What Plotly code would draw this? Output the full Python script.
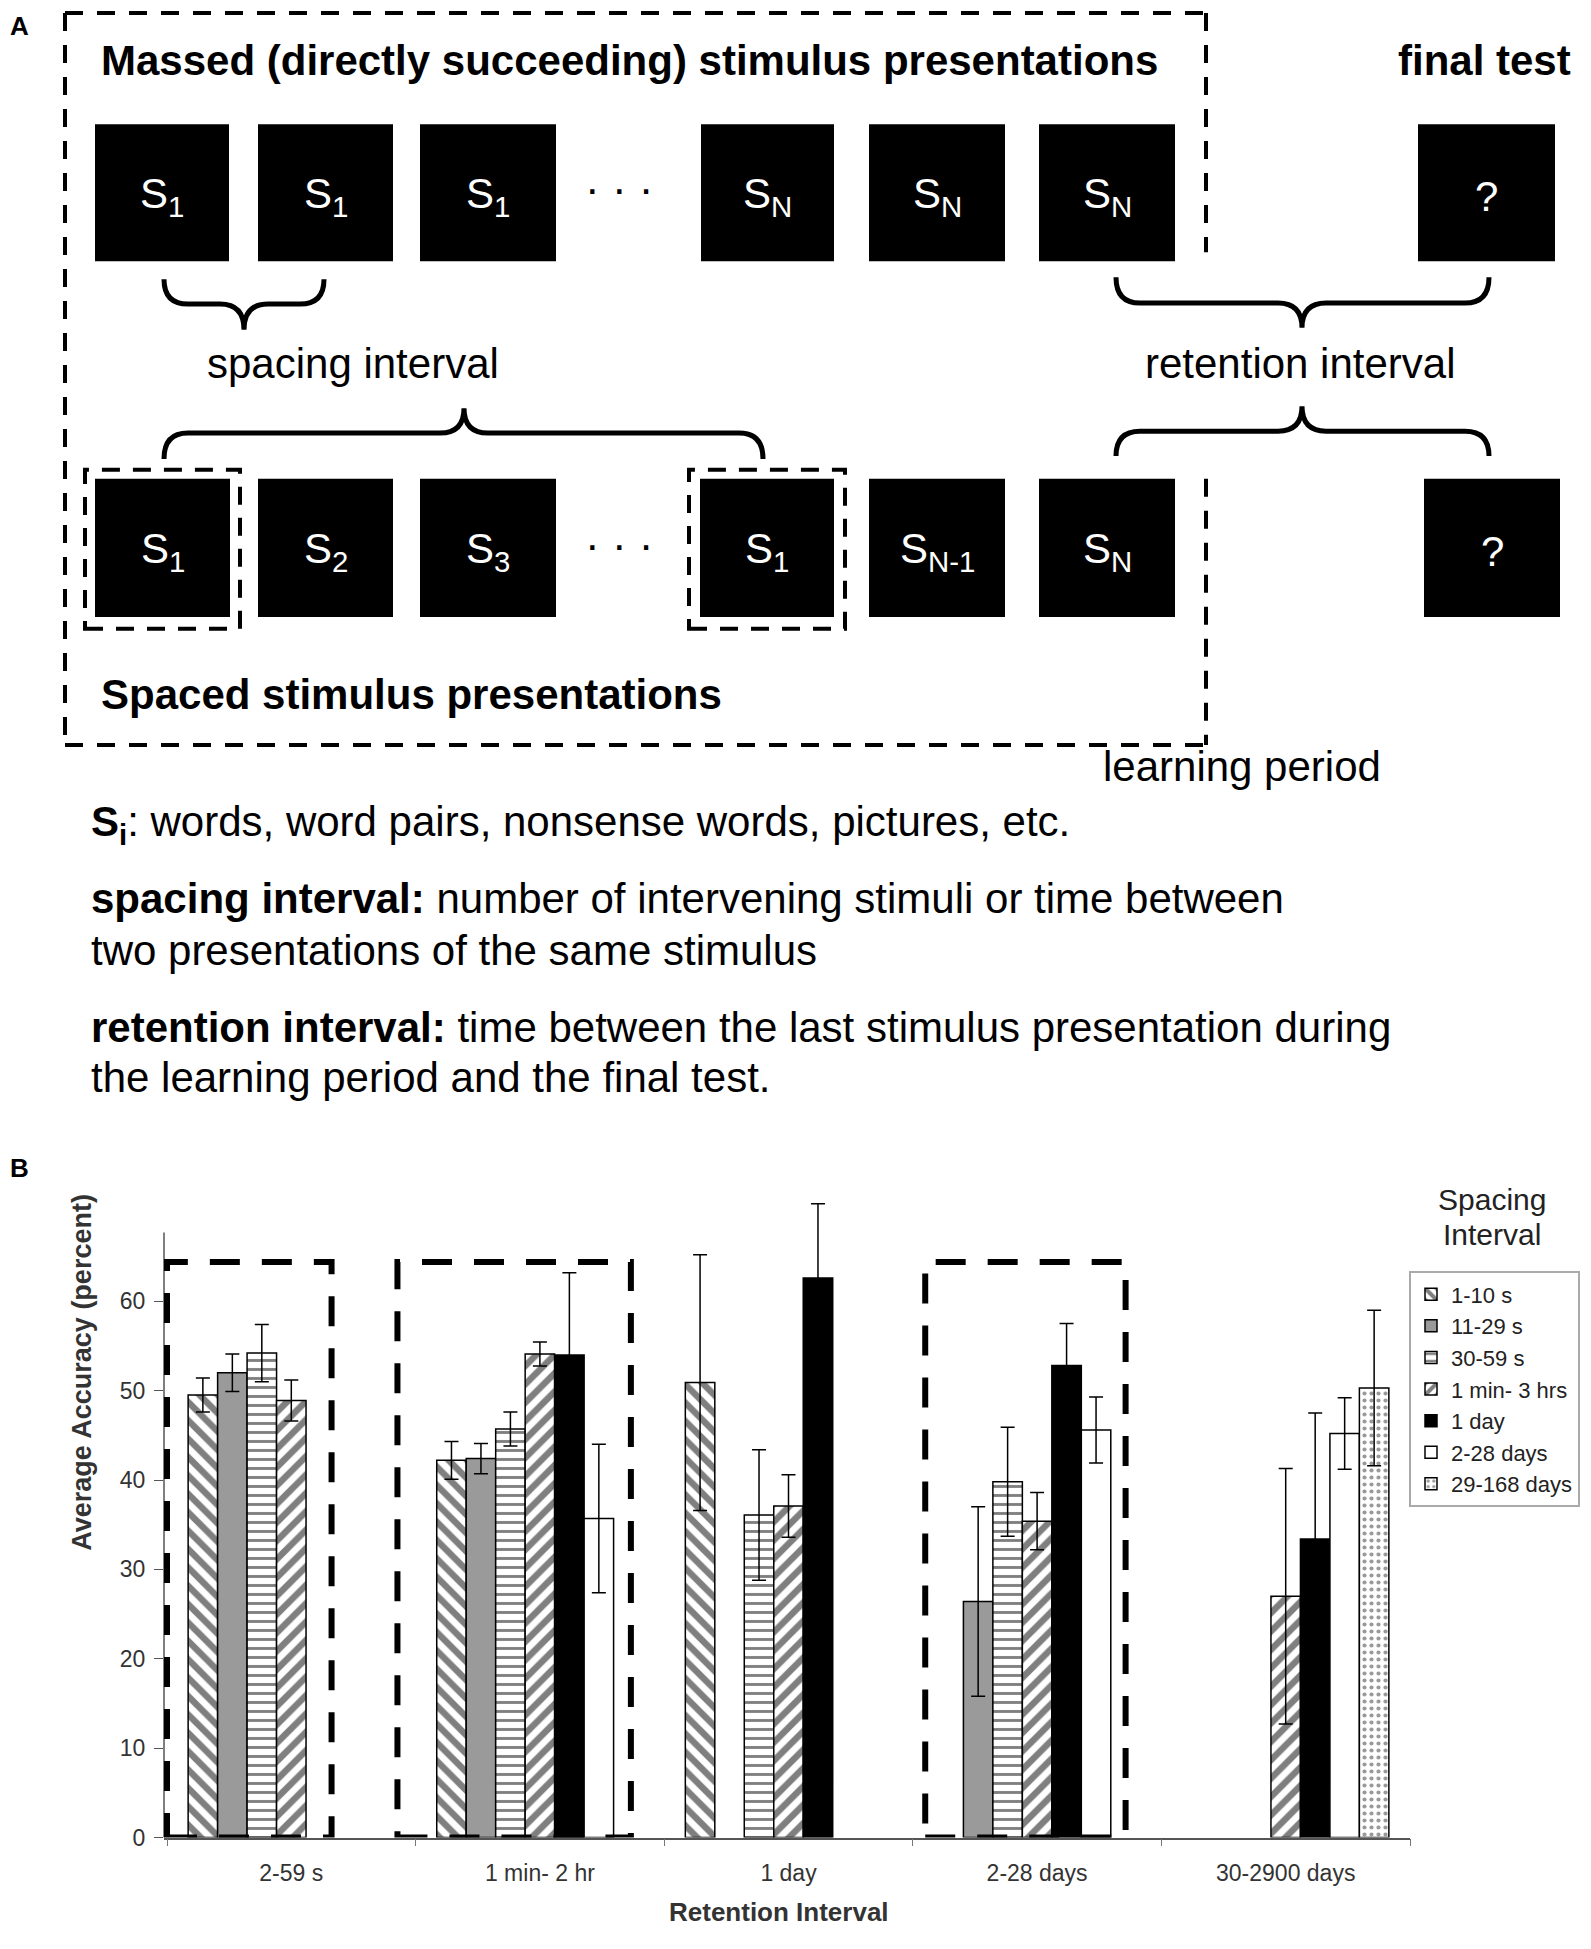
import plotly.graph_objects as go

# ---------------- data (panel B) ----------------
categories = ["2-59 s", "1 min- 2 hr", "1 day", "2-28 days", "30-2900 days"]
series_names = ["1-10 s", "11-29 s", "30-59 s", "1 min- 3 hrs", "1 day", "2-28 days", "29-168 days"]

acc_1_10s = [49.5, 42.2, 50.9, None, None]
err_1_10s = [1.9, 2.1, 14.3, None, None]
acc_11_29s = [52.0, 42.4, None, 26.4, None]
err_11_29s = [2.1, 1.7, None, 10.6, None]
acc_30_59s = [54.2, 45.7, 36.1, 39.8, None]
err_30_59s = [3.2, 1.9, 7.3, 6.1, None]
acc_1min_3hrs = [48.9, 54.1, 37.1, 35.4, 27.0]
err_1min_3hrs = [2.3, 1.35, 3.5, 3.2, 14.3]
acc_1day = [None, 54.0, 62.6, 52.8, 33.4]
err_1day = [None, 9.2, 8.3, 4.7, 14.1]
acc_2_28days = [None, 35.7, None, 45.6, 45.2]
err_2_28days = [None, 8.3, None, 3.7, 4.0]
acc_29_168days = [None, None, None, None, 50.3]
err_29_168days = [None, None, None, None, 8.7]

y_ticks = [0, 10, 20, 30, 40, 50, 60]

FONT = "Liberation Sans, Arial, sans-serif"
W, H = 1591, 1949
M = 8                      # default page margin of the html body
FW, FH = W - 2 * M, H - 2 * M


def px(x):
    return (x - M) / FW


def py(y):
    return 1 - (y - M) / FH


values = [acc_1_10s, acc_11_29s, acc_30_59s, acc_1min_3hrs, acc_1day, acc_2_28days, acc_29_168days]
errors = [err_1_10s, err_11_29s, err_30_59s, err_1min_3hrs, err_1day, err_2_28days, err_29_168days]

styles = [
    dict(color="white", pattern=dict(shape="\\", fgcolor="black", bgcolor="white", size=13, solidity=0.5)),
    dict(color="#9a9a9a", pattern=dict(shape="")),
    dict(color="white", pattern=dict(shape="-", fgcolor="black", bgcolor="white", size=9, solidity=0.32)),
    dict(color="white", pattern=dict(shape="/", fgcolor="black", bgcolor="white", size=13, solidity=0.5)),
    dict(color="black", pattern=dict(shape="")),
    dict(color="white", pattern=dict(shape="")),
    dict(color="white", pattern=dict(shape=".", fgcolor="#333333", bgcolor="white", size=7, solidity=0.28)),
]

fig = go.Figure()
for name, vals, errs, st in zip(series_names, values, errors, styles):
    fig.add_trace(go.Bar(
        x=categories, y=vals, name=name, legendgroup=name,
        marker=dict(color=st["color"], pattern=st["pattern"],
                    line=dict(color="black", width=1.5)),
        error_y=dict(type="data", array=errs, visible=True, color="black",
                     thickness=1.5, width=7),
    ))

fig.update_layout(
    width=FW, height=FH,
    margin=dict(l=0, r=0, t=0, b=0),
    paper_bgcolor="white", plot_bgcolor="white",
    barmode="group", bargap=0.17, bargroupgap=0,
    font=dict(family=FONT, color="#333333"),
    showlegend=True,
    legend=dict(x=px(1409), y=py(1280), xanchor="left", yanchor="top",
                bordercolor="#aaaaaa", borderwidth=2, bgcolor="white",
                font=dict(size=22, color="#222222", family=FONT),
                tracegroupgap=8, traceorder="normal"),
    xaxis=dict(domain=[px(164), px(1410)], showline=True, linecolor="#555555", linewidth=1.5,
               ticks="outside", tickson="boundaries", ticklen=7, tickcolor="#777777",
               tickfont=dict(size=23, color="#333333"), ticklabelstandoff=14,
               showgrid=False, zeroline=False),
    yaxis=dict(domain=[py(1850), py(1202)], range=[0, 72], showline=False,
               tickvals=y_ticks, ticks="outside", ticklen=9, tickcolor="#555555",
               tickfont=dict(size=23, color="#333333"), ticklabelstandoff=4,
               showgrid=False, zeroline=False),
)

shapes = []
annotations = []

# y axis line (drawn up to top of data region)
shapes.append(dict(type="line", xref="x domain", yref="y", x0=0, x1=0, y0=0, y1=67.7,
                   line=dict(color="#555555", width=1.5)))

# thick dashed highlight boxes in panel B
for x0, x1 in [(-0.5, 0.162), (0.427, 1.366), (2.55, 3.356)]:
    shapes.append(dict(type="rect", xref="x", yref="y", x0=x0, x1=x1, y0=0, y1=64.4,
                       line=dict(color="black", width=6, dash="30px,22px"),
                       fillcolor="rgba(0,0,0,0)", layer="above"))


def text(t, x, y, size=42, anchor="center", color="black", angle=0):
    return dict(text=t, x=px(x), y=py(y), xref="paper", yref="paper", xanchor=anchor,
                yanchor="middle", showarrow=False, textangle=angle,
                font=dict(size=size, color=color, family=FONT))


# axis titles and legend title
annotations.append(text("<b>Average Accuracy (percent)</b>", 82, 1382, size=27, color="#333333", angle=-90))
annotations.append(text("<b>Retention Interval</b>", 779, 1925, size=26, color="#333333"))
annotations.append(text("Spacing", 1492, 1208, size=30, color="#222222"))
annotations.append(text("Interval", 1492, 1243, size=30, color="#222222"))

# panel labels
annotations.append(text("<b>A</b>", 8, 26, size=26, anchor="left"))
annotations.append(text("<b>B</b>", 8, 1176, size=26, anchor="left"))

# ---------------- panel A diagram ----------------
def rect(x0, y0, x1, y1, **kw):
    d = dict(type="rect", xref="paper", yref="paper", x0=px(x0), x1=px(x1), y0=py(y1), y1=py(y0))
    d.update(kw)
    return d


def line(x0, y0, x1, y1, **kw):
    d = dict(type="line", xref="paper", yref="paper", x0=px(x0), x1=px(x1), y0=py(y0), y1=py(y1))
    d.update(kw)
    return d


dash_outer = dict(color="black", width=4, dash="18px,14px")

# outer learning-period box
shapes.append(line(65, 13, 1206, 13, line=dash_outer))
shapes.append(line(65, 13, 65, 750, line=dash_outer))
shapes.append(line(65, 750, 1206, 750, line=dash_outer))
shapes.append(line(1206, 13, 1206, 254, line=dash_outer))
shapes.append(line(1206, 482, 1206, 750, line=dash_outer))

top_row = [(95, 229, "S<sub>1</sub>"), (258, 393, "S<sub>1</sub>"), (420, 556, "S<sub>1</sub>"),
           (701, 834, "S<sub>N</sub>"), (869, 1005, "S<sub>N</sub>"), (1039, 1175, "S<sub>N</sub>"),
           (1418, 1555, "?")]
bottom_row = [(95, 230, "S<sub>1</sub>"), (258, 393, "S<sub>2</sub>"), (420, 556, "S<sub>3</sub>"),
              (700, 834, "S<sub>1</sub>"), (869, 1005, "S<sub>N-1</sub>"), (1039, 1175, "S<sub>N</sub>"),
              (1424, 1560, "?")]

for (x0, x1, lab) in top_row:
    shapes.append(rect(x0, 125, x1, 263, fillcolor="black", line=dict(width=0)))
    annotations.append(text(lab, (x0 + x1) / 2, 198, size=42, color="white"))
for (x0, x1, lab) in bottom_row:
    shapes.append(rect(x0, 482, x1, 621, fillcolor="black", line=dict(width=0)))
    annotations.append(text(lab, (x0 + x1) / 2, 555, size=42, color="white"))

annotations.append(text("· · ·", 619, 190, size=44))
annotations.append(text("· · ·", 619, 548, size=44))

# inner dashed boxes around repeated S1
for x0, x1 in [(85, 240), (689, 845)]:
    shapes.append(rect(x0, 473, x1, 633, line=dict(color="black", width=4, dash="18px,13px"),
                       fillcolor="rgba(0,0,0,0)"))


def brace(x0, x1, xc, y_end, y_mid, y_tip, r=24):
    pts = [
        f"M {px(x0)},{py(y_end)}",
        f"Q {px(x0)},{py(y_mid)} {px(x0 + r)},{py(y_mid)}",
        f"L {px(xc - r)},{py(y_mid)}",
        f"Q {px(xc)},{py(y_mid)} {px(xc)},{py(y_tip)}",
        f"Q {px(xc)},{py(y_mid)} {px(xc + r)},{py(y_mid)}",
        f"L {px(x1 - r)},{py(y_mid)}",
        f"Q {px(x1)},{py(y_mid)} {px(x1)},{py(y_end)}",
    ]
    return dict(type="path", xref="paper", yref="paper", path=" ".join(pts),
                line=dict(color="black", width=5))


shapes.append(brace(164, 324, 244, 281, 306, 332))
shapes.append(brace(164, 763, 464, 462, 436, 411))
shapes.append(brace(1116, 1489, 1302, 279, 305, 330))
shapes.append(brace(1116, 1489, 1302, 459, 434, 409))

annotations.append(text("<b>Massed (directly succeeding) stimulus presentations</b>", 99, 61, anchor="left"))
annotations.append(text("<b>final test</b>", 1573, 61, anchor="right"))
annotations.append(text("<b>Spaced stimulus presentations</b>", 99, 699, anchor="left"))
annotations.append(text("spacing interval", 353, 366))
annotations.append(text("retention interval", 1300, 366))
annotations.append(text("learning period", 1242, 772))

annotations.append(text("<b>S<sub>i</sub></b>: words, word pairs, nonsense words, pictures, etc.", 89, 830, anchor="left"))
annotations.append(text("<b>spacing interval:</b> number of intervening stimuli or time between", 89, 905, anchor="left"))
annotations.append(text("two presentations of the same stimulus", 89, 957, anchor="left"))
annotations.append(text("<b>retention interval:</b> time between the last stimulus presentation during", 89, 1034, anchor="left"))
annotations.append(text("the learning period and the final test.", 89, 1085, anchor="left"))

fig.update_layout(shapes=shapes, annotations=annotations)
fig.write_html("out.html")
